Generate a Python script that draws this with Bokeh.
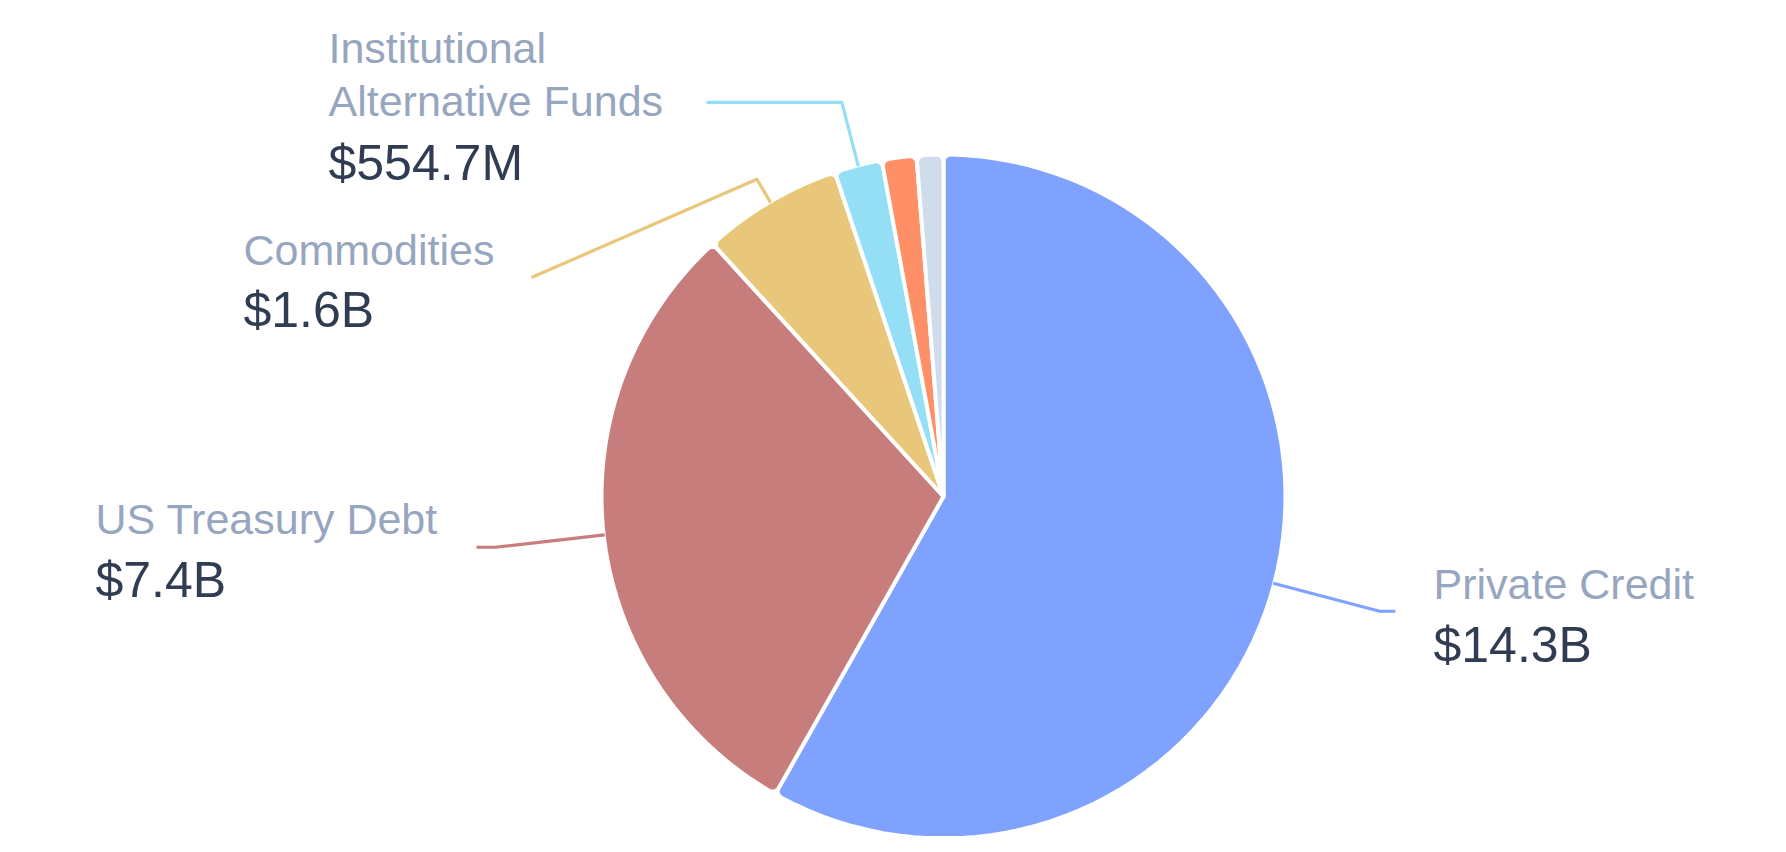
import math
from bokeh.plotting import figure
from bokeh.models import Range1d
from bokeh.embed import file_html
from bokeh.resources import INLINE
from bokeh.core.properties import value

# ---------------- data ----------------
categories = ["Private Credit", "US Treasury Debt", "Commodities",
              "Institutional Alternative Funds", "Real Estate", "Other"]
label_lines = [["Private Credit"], ["US Treasury Debt"], ["Commodities"],
               ["Institutional", "Alternative Funds"], [], []]
amounts = [14.3e9, 7.38e9, 1.63e9, 554.7e6, 400e6, 310e6]
colors = ["#7FA2FF", "#C87D7D", "#E8C77A", "#94DFF5", "#FF8F66", "#D0DBEB"]

# ---------------- layout (page pixels) ----------------
W, H = 1770, 836
CX, CY = 943, 496            # pie centre on the page
R = 342                      # outer radius (stroke eats ~2px)
RC = 7                       # corner rounding
TEXT_SHIFT = -18             # correction for text baseline placement
# per visible label: elbow radius, leader end (x, y or None = horizontal), text x, baselines
label_layout = {
    0: dict(elbow=451, end=(1395, None), tx=1433, base=[601], vbase=662),
    1: dict(elbow=451, end=(476, None), tx=95, base=[536], vbase=597),
    2: dict(elbow=368, end=(531, 277), tx=243, base=[267], vbase=327),
    3: dict(elbow=407, end=(706, None), tx=328, base=[65, 118.5], vbase=180),
}


def X(px):
    return px


def Y(py):
    return H - py


def fmt(v):
    if v >= 1e9:
        return "$%.1fB" % (v / 1e9)
    return "$%.1fM" % (v / 1e6)


def sector(cx, cy, a0, a1, r, rc, n=80):
    phi = math.asin(rc / (r - rc))
    xs, ys = [cx], [cy]
    c1 = (cx + (r - rc) * math.cos(a0 + phi), cy + (r - rc) * math.sin(a0 + phi))
    for i in range(13):
        t = (a0 - math.pi / 2) + (math.pi / 2 + phi) * i / 12
        xs.append(c1[0] + rc * math.cos(t)); ys.append(c1[1] + rc * math.sin(t))
    for i in range(1, n):
        t = (a0 + phi) + (a1 - a0 - 2 * phi) * i / n
        xs.append(cx + r * math.cos(t)); ys.append(cy + r * math.sin(t))
    c2 = (cx + (r - rc) * math.cos(a1 - phi), cy + (r - rc) * math.sin(a1 - phi))
    for i in range(13):
        t = (a1 - phi) + (math.pi / 2 + phi) * i / 12
        xs.append(c2[0] + rc * math.cos(t)); ys.append(c2[1] + rc * math.sin(t))
    return xs, ys


p = figure(width=W, height=H, output_backend="svg", toolbar_location=None,
           x_range=Range1d(0, W), y_range=Range1d(0, H), min_border=0)
p.axis.visible = False
p.grid.visible = False
p.outline_line_color = None
p.background_fill_color = "white"
p.border_fill_color = "white"

total = sum(amounts)
cx, cy = X(CX), Y(CY)
xs_all, ys_all = [], []
mids = []
cum = 0.0
for v in amounts:
    th0 = cum / total * 2 * math.pi
    cum += v
    th1 = cum / total * 2 * math.pi
    a0 = math.pi / 2 - th1
    a1 = math.pi / 2 - th0
    xs, ys = sector(cx, cy, a0, a1, R, RC)
    xs_all.append(xs); ys_all.append(ys)
    mids.append((a0 + a1) / 2)

p.patches(xs=xs_all, ys=ys_all, fill_color=colors, line_color="white",
          line_width=4, line_join="round")

# leader lines
lx, ly, lc = [], [], []
for i, lay in label_layout.items():
    a = mids[i]
    r0 = R - 1
    sx, sy = cx + r0 * math.cos(a), cy + r0 * math.sin(a)
    ex_, ey_ = cx + lay["elbow"] * math.cos(a), cy + lay["elbow"] * math.sin(a)
    endx, endy = lay["end"]
    fx = X(endx)
    fy = ey_ if endy is None else Y(endy)
    lx.append([sx, ex_, fx]); ly.append([sy, ey_, fy]); lc.append(colors[i])
p.multi_line(xs=lx, ys=ly, line_color=lc, line_width=3.2, line_join="round")

# texts
tx, ty, tt = [], [], []
vx, vy, vt = [], [], []
for i, lay in label_layout.items():
    for line, b in zip(label_lines[i], lay["base"]):
        tx.append(X(lay["tx"])); ty.append(Y(b + TEXT_SHIFT)); tt.append(line)
    vx.append(X(lay["tx"])); vy.append(Y(lay["vbase"] + TEXT_SHIFT)); vt.append(fmt(amounts[i]))

p.text(x=tx, y=ty, text=tt, text_font=value("Liberation Sans"),
       text_font_size="43px", text_color="#97A6BF", text_baseline="alphabetic",
       text_align="left")
p.text(x=vx, y=vy, text=vt, text_font=value("Liberation Sans"),
       text_font_size="50px", text_color="#2F3C52", text_baseline="alphabetic",
       text_align="left")

open("out.html", "w").write(file_html(p, INLINE))
